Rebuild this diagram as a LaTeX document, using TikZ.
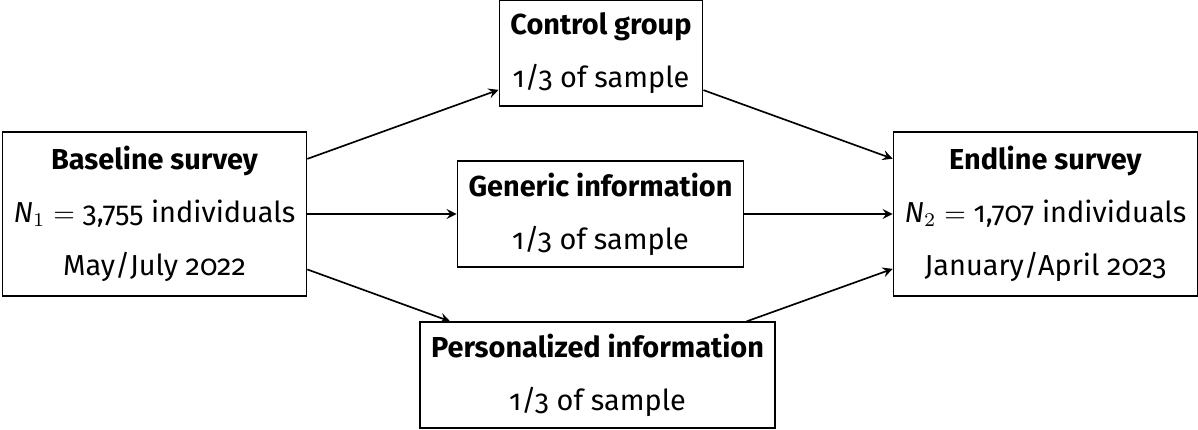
\documentclass[tikz,border=0pt]{standalone}
\usepackage{fontspec}
\setmainfont{Fira Sans}[Numbers=OldStyle]
\usetikzlibrary{arrows}

\tikzset{
	stage/.style={draw, semithick, align=center, inner xsep=4pt, font=\fontsize{10.4}{12.5}\selectfont},
	arm/.style={stage, minimum height=38pt},
	flow/.style={->, >=stealth, semithick}
}

\begin{document}
\begin{tikzpicture}[x=0.36pt, y=-0.36pt]
		
		\useasboundingbox (0,0) rectangle (1198,430);
		
		\node[stage, minimum height=59pt] (base) at (154.5,214) {\textbf{Baseline survey}\\[6.6pt] {\itshape N}$_1 = {}$3,755 individuals\\[6.6pt] May/July 2022};
		\node[stage, minimum height=59pt] (end) at (1045.5,214) {\textbf{Endline survey}\\[6.6pt] {\itshape N}$_2 = {}$1,707 individuals\\[6.6pt] January/April 2023};
		
		\node[arm] (ctrl) at (601,53) {\textbf{Control group}\\[6.6pt] 1/3 of sample};
		\node[arm] (gen) at (600.5,214) {\textbf{Generic information}\\[6.6pt] 1/3 of sample};
		\node[arm] (pers) at (597.5,375) {\textbf{Personalized information}\\[6.6pt] 1/3 of sample};
		
		\draw[flow] (base) -- (ctrl);
		\draw[flow] (base) -- (gen);
		\draw[flow] (base) -- (pers);
		\draw[flow] (ctrl) -- (end);
		\draw[flow] (gen) -- (end);
		\draw[flow] (pers) -- (end);
		
	\end{tikzpicture}
\end{document}
